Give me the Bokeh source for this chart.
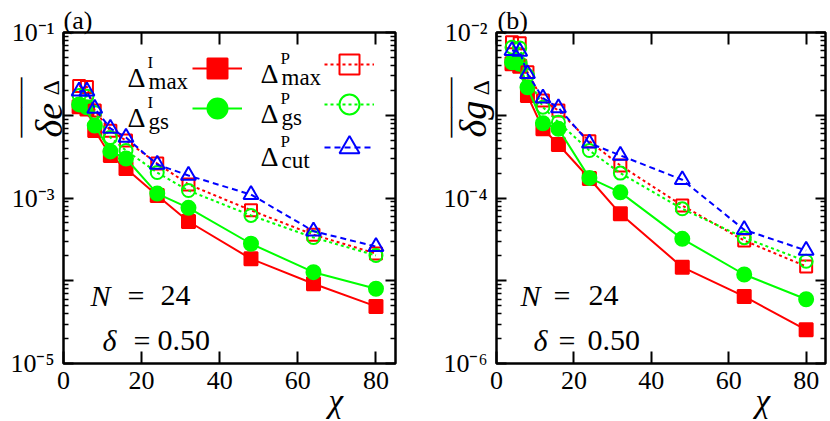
import math
from bokeh.plotting import figure
from bokeh.models import (FixedTicker, LinearAxis, LogAxis, Label, Legend,
                          LegendItem, Range1d)
from bokeh.core.properties import value
from bokeh.layouts import row
from bokeh.embed import file_html
from bokeh.resources import INLINE

# ---------------- data ----------------
chi = [4, 6, 8, 12, 16, 24, 32, 48, 64, 80]

# panel (a): mean energy error
e_I_max = [0.0127, 0.0119, 0.00655, 0.00327, 0.00227, 0.00107, 0.00052, 0.000184, 0.000092, 0.000049]
e_I_gs = [0.0135, 0.0125, 0.0075, 0.00365, 0.0030, 0.00113, 0.00076, 0.00028, 0.000127, 0.00008]
e_P_max = [0.0225, 0.0220, 0.0114, 0.0065, 0.00495, 0.00261, 0.00146, 0.00071, 0.00036, 0.000213]
e_P_gs = [0.0173, 0.0170, 0.0108, 0.00538, 0.00375, 0.00203, 0.00123, 0.000615, 0.000333, 0.000202]
e_P_cut = [0.0195, 0.0195, 0.0121, 0.00692, 0.00538, 0.00254, 0.00187, 0.0011, 0.000397, 0.000259]

# panel (b): mean gap error
g_I_max = [0.0042, 0.0039, 0.00173, 0.000686, 0.000443, 0.000172, 0.0000644, 0.0000146, 0.00000646, 0.00000255]
g_I_gs = [0.00437, 0.00418, 0.00218, 0.0008, 0.000686, 0.000175, 0.000117, 0.0000321, 0.0000119, 0.00000598]
g_P_max = [0.00763, 0.0074, 0.00331, 0.00151, 0.00114, 0.000485, 0.000247, 0.000081, 0.0000306, 0.0000149]
g_P_gs = [0.00664, 0.0065, 0.00302, 0.00125, 0.000824, 0.000375, 0.0002, 0.000074, 0.0000331, 0.0000172]
g_P_cut = [0.00605, 0.0059, 0.00317, 0.00161, 0.00123, 0.00046, 0.000327, 0.000166, 0.0000413, 0.0000232]

x_ticks = [0, 20, 40, 60, 80]
e_decades = [1e-5, 1e-4, 1e-3, 1e-2, 1e-1]
e_decade_labels = ["10⁻⁵", "", "10⁻³", "", "10⁻¹"]
g_decades = [1e-6, 1e-5, 1e-4, 1e-3, 1e-2]
g_decade_labels = ["10⁻⁶", "", "10⁻⁴", "", "10⁻²"]

series_names = ["I_max", "I_gs", "P_max", "P_gs", "P_cut"]
legend_sup = ["I", "I", "P", "P", "P"]
legend_sub = ["max", "gs", "max", "gs", "cut"]

# ---------------- style / layout ----------------
FONT = "Liberation Serif"
RED, GREEN, BLUE = "#ff0000", "#00ff00", "#0000ff"
XMAX = 85.0
H = 420
TOP = 32
BOT = 57
FH = H - TOP - BOT

STYLES = {
    "I_max": dict(color=RED, dash="solid", marker="square", size=13, filled=True),
    "I_gs": dict(color=GREEN, dash="solid", marker="circle", size=14, filled=True),
    "P_max": dict(color=RED, dash="3 3", marker="square", size=12, filled=False),
    "P_gs": dict(color=GREEN, dash="3 3", marker="circle", size=13, filled=False),
    "P_cut": dict(color=BLUE, dash="6 4", marker="triangle", size=15, filled=False),
}


def make_panel(w, bl, br, decades, dec_labels, data):
    lo, hi = decades[0], decades[-1]
    p = figure(width=w, height=H, x_range=Range1d(0, XMAX),
               y_range=Range1d(lo, hi), y_axis_type="log",
               output_backend="svg", toolbar_location=None,
               min_border_left=bl, min_border_right=br,
               min_border_top=TOP, min_border_bottom=BOT)
    p.grid.visible = False
    p.outline_line_color = "black"
    p.outline_line_width = 2.5
    p.background_fill_color = "white"
    p.border_fill_color = "white"

    minor = [k * d for d in decades[:-1] for k in range(2, 10)]

    def style_y(ax, show):
        ax.ticker = FixedTicker(ticks=decades, minor_ticks=minor)
        ax.axis_line_color = None
        ax.major_tick_in = 10
        ax.major_tick_out = 0
        ax.minor_tick_in = 5
        ax.minor_tick_out = 0
        ax.major_tick_line_width = 2
        ax.minor_tick_line_width = 1.5
        ax.major_tick_line_color = "black"
        ax.minor_tick_line_color = "black"
        if show:
            ax.major_label_overrides = {d: t for d, t in zip(decades, dec_labels)}
            ax.major_label_text_font = FONT
            ax.major_label_text_font_size = "26px"
            ax.major_label_text_color = "black"
            ax.major_label_standoff = 9
        else:
            ax.major_label_overrides = {d: "" for d in decades}
            ax.major_label_text_font_size = "0px"
            ax.major_label_standoff = 0

    def style_x(ax, show):
        ax.ticker = FixedTicker(ticks=x_ticks)
        ax.axis_line_color = None
        ax.major_tick_in = 12
        ax.major_tick_out = 0
        ax.minor_tick_in = 0
        ax.minor_tick_out = 0
        ax.major_tick_line_width = 2
        ax.major_tick_line_color = "black"
        if show:
            ax.major_label_text_font = FONT
            ax.major_label_text_font_size = "26px"
            ax.major_label_text_color = "black"
            ax.major_label_standoff = 8
        else:
            ax.major_label_overrides = {t: "" for t in x_ticks}
            ax.major_label_text_font_size = "0px"
            ax.major_label_standoff = 0

    style_y(p.yaxis[0], True)
    style_x(p.xaxis[0], True)
    ry = LogAxis()
    style_y(ry, False)
    p.add_layout(ry, "right")
    tx = LinearAxis()
    style_x(tx, False)
    p.add_layout(tx, "above")

    rends = {}
    for name in series_names:
        s = STYLES[name]
        vals = data[name]
        lr = p.line(chi, vals, line_color=s["color"], line_width=2,
                    line_dash=s["dash"])
        sr = p.scatter(chi, vals, marker=s["marker"], size=s["size"],
                       line_color=s["color"], line_width=2,
                       fill_color=s["color"] if s["filled"] else None)
        rends[name] = (lr, sr)
    return p, rends


def add_text(p, dx, dy, text, size, italic=False):
    # in-frame text. dx: px right of frame left; dy: px below frame top
    p.add_layout(Label(x=dx, y=FH - dy, x_units="screen", y_units="screen",
                       text=text, text_font=FONT,
                       text_font_size=f"{size}px",
                       text_font_style="italic" if italic else "normal",
                       text_color="black",
                       text_align="left", text_baseline="alphabetic"))


def add_free_text(p, fw, decades, dx, dy, text, size, style="normal", angle=0.0):
    # text outside the frame, drawn as an unclipped text glyph
    lo_e = math.log10(decades[0])
    hi_e = math.log10(decades[-1])
    x = dx * XMAX / fw
    y = 10 ** (hi_e - dy * (hi_e - lo_e) / FH)
    p.text(x=[x], y=[y], text=[text], text_font=value(FONT),
           text_font_size=value(f"{size}px"),
           text_font_style=value(style),
           text_color="black", angle=angle,
           text_align=value("left"), text_baseline=value("alphabetic"),
           level="overlay")


W1, BL1, BR1 = 415, 63, 20
W2, BL2, BR2 = 415, 81, 5
FW1 = W1 - BL1 - BR1
FW2 = W2 - BL2 - BR2

data_a = dict(zip(series_names, [e_I_max, e_I_gs, e_P_max, e_P_gs, e_P_cut]))
data_b = dict(zip(series_names, [g_I_max, g_I_gs, g_P_max, g_P_gs, g_P_cut]))

pa, ra = make_panel(W1, BL1, BR1, e_decades, e_decade_labels, data_a)
pb, rb = make_panel(W2, BL2, BR2, g_decades, g_decade_labels, data_b)

# ---------------- legend (panel a): one box per key ----------------
GW, GH = 50, 52
key_rows = {"I_max": (129, 36), "I_gs": (129, 76),
            "P_max": (261, 32), "P_gs": (261, 72), "P_cut": (261, 115)}
for name in series_names:
    lx, r = key_rows[name]
    leg = Legend(items=[LegendItem(label=value(" "), renderers=list(ra[name]))],
                 location=(lx, FH - r - GH // 2), glyph_width=GW, glyph_height=GH,
                 spacing=0, padding=0, margin=0, label_width=0, label_height=0,
                 label_standoff=0, label_text_font_size="1px",
                 background_fill_alpha=0, border_line_alpha=0)
    pa.add_layout(leg)

for i, name in enumerate(series_names):
    lx, r = key_rows[name]
    tx0 = 64 if lx == 129 else 197
    add_text(pa, tx0, r + 9, "Δ", 28)
    add_text(pa, tx0 + 20, r - 6, legend_sup[i], 17)
    add_text(pa, tx0 + 21, r + 13, legend_sub[i], 23)

# ---------------- other texts ----------------
for p, fw, dec, tag, tagx, nx, dx_, chx, ylab, yb, yb2, ovx in [
    (pa, FW1, e_decades, "(a)", 0, (27, 64, 97), (39, 70, 94), 265, "δe", -15, -13, -45.5),
    (pb, FW2, g_decades, "(b)", 1, (24, 57, 92), (37, 62, 91), 259, "δg", -24, -16, -48.5),
]:
    add_text(p, nx[0], 263, "N", 30, italic=True)
    add_text(p, nx[1], 263, "=", 30)
    add_text(p, nx[2], 263, "24", 30)
    add_text(p, dx_[0], 308, "δ", 30, italic=True)
    add_text(p, dx_[1], 308, "=", 30)
    add_text(p, dx_[2], 308, "0.50", 30)
    add_free_text(p, fw, dec, tagx, -12, tag, 26)
    add_free_text(p, fw, dec, chx, 368, "χ", 33, style="italic")
    add_free_text(p, fw, dec, yb, 105, ylab, 38, style="italic", angle=math.pi / 2)
    add_free_text(p, fw, dec, yb2, 63, "Δ", 24, angle=math.pi / 2)
    # overline of the axis title
    add_free_text(p, fw, dec, ovx, 105, "——", 30, angle=math.pi / 2)

layout = row(pa, pb)
open("out.html", "w").write(file_html(layout, INLINE))
